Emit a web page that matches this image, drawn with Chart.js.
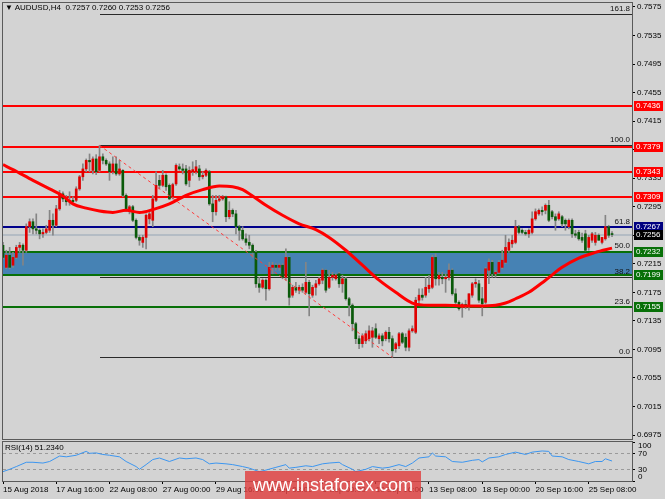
<!DOCTYPE html>
<html>
<head>
<meta charset="utf-8">
<script src="https://cdn.jsdelivr.net/npm/chart.js@4.4.1/dist/chart.umd.min.js"></script>
<style>
  body { margin: 0; background: #d3d3d3; }
  #wrap { position: relative; width: 665px; height: 499px; background: #d3d3d3; overflow: hidden; font-family: "Liberation Sans", Arial, sans-serif; }
  canvas { position: absolute; left: 0; }
  .txt { position: absolute; font-size: 8px; line-height: 10px; color: #000; white-space: pre; }
  #mark { position: absolute; left: 245px; top: 471px; width: 176px; height: 28px; background: rgba(225, 60, 60, 0.8);
          color: #fff; font-size: 18px; line-height: 28px; text-align: center; }
</style>
</head>
<body>
<div id="wrap">
  <canvas id="main" width="665" height="441" style="top:0"></canvas>
  <canvas id="rsi" width="665" height="58" style="top:441px"></canvas>
  <div class="txt" id="title" style="left:5px;top:3px"></div>
  <div class="txt" id="rsiTitle" style="left:5px;top:443px"></div>
  <div id="mark">www.instaforex.com</div>
</div>
<script>
// H4 bars, index 0 = 15 Aug 2018 00:00
const xTickBars = [0, 16, 32, 48, 64, 80, 96, 112, 128, 144, 160, 176];
const xTickLabels = ["15 Aug 2018", "17 Aug 16:00", "22 Aug 08:00", "27 Aug 00:00", "29 Aug 16:00", "3 Sep 08:00",
  "6 Sep 00:00", "10 Sep 16:00", "13 Sep 08:00", "18 Sep 00:00", "20 Sep 16:00", "25 Sep 08:00"];

const opens = [
  .7241,.7210,.7227,.7213,.7224,.7238,.7241,.7234,.7267,.7274,
  .7264,.7262,.7257,.7259,.7262,.7276,.7269,.7292,.7313,.7306,
  .7302,.7304,.7304,.7320,.7337,.7348,.7360,.7346,.7362,.7346,
  .7365,.7360,.7355,.7344,.7355,.7341,.7346,.7311,.7290,.7295,
  .7276,.7252,.7245,.7252,.7278,.7276,.7304,.7332,.7325,.7339,
  .7325,.7309,.7327,.7351,.7348,.7348,.7332,.7344,.7344,.7348,
  .7337,.7339,.7344,.7299,.7288,.7304,.7306,.7309,.7281,.7290,
  .7285,.7267,.7262,.7250,.7245,.7241,.7231,.7187,.7182,.7192,
  .7180,.7210,.7213,.7210,.7213,.7196,.7224,.7171,.7182,.7178,
  .7182,.7175,.7189,.7171,.7182,.7187,.7192,.7206,.7182,.7196,
  .7194,.7201,.7187,.7194,.7166,.7157,.7131,.7110,.7103,.7107,
  .7110,.7112,.7124,.7110,.7114,.7110,.7119,.7110,.7096,.7100,
  .7117,.7112,.7098,.7121,.7119,.7164,.7171,.7171,.7180,.7182,
  .7224,.7194,.7196,.7194,.7196,.7206,.7173,.7161,.7154,.7158,
  .7157,.7171,.7187,.7187,.7166,.7161,.7206,.7217,.7201,.7203,
  .7210,.7217,.7234,.7243,.7245,.7267,.7262,.7259,.7257,.7259,
  .7278,.7285,.7290,.7290,.7297,.7288,.7281,.7278,.7281,.7276,
  .7267,.7276,.7257,.7259,.7252,.7257,.7238,.7248,.7245,.7255,
  .7245,.7250,.7267,.7257];
const highs = [
  .7245,.7234,.7238,.7231,.7241,.7245,.7243,.7271,.7278,.7278,
  .7285,.7264,.7264,.7269,.7290,.7285,.7297,.7318,.7316,.7311,
  .7316,.7309,.7323,.7339,.7355,.7362,.7369,.7365,.7368,.7381,
  .7369,.7362,.7358,.7365,.7365,.7360,.7347,.7313,.7297,.7297,
  .7278,.7255,.7255,.7285,.7290,.7311,.7344,.7339,.7346,.7341,
  .7327,.7328,.7355,.7355,.7355,.7353,.7351,.7358,.7360,.7353,
  .7344,.7348,.7346,.7311,.7311,.7311,.7311,.7310,.7302,.7292,
  .7290,.7269,.7267,.7257,.7255,.7243,.7234,.7196,.7194,.7194,
  .7217,.7217,.7215,.7215,.7215,.7236,.7225,.7185,.7189,.7185,
  .7187,.7217,.7192,.7185,.7192,.7196,.7208,.7207,.7206,.7203,
  .7201,.7203,.7199,.7196,.7168,.7159,.7133,.7114,.7117,.7121,
  .7128,.7126,.7131,.7117,.7117,.7121,.7126,.7114,.7105,.7119,
  .7119,.7117,.7124,.7128,.7168,.7180,.7180,.7196,.7199,.7227,
  .7229,.7203,.7203,.7201,.7215,.7208,.7180,.7163,.7160,.7164,
  .7173,.7189,.7194,.7192,.7182,.7210,.7222,.7220,.7206,.7220,
  .7234,.7255,.7250,.7255,.7276,.7269,.7264,.7262,.7264,.7288,
  .7292,.7292,.7295,.7299,.7304,.7290,.7285,.7288,.7283,.7278,
  .7278,.7278,.7262,.7262,.7258,.7262,.7255,.7259,.7259,.7257,
  .7252,.7283,.7269,.7260];
const lows = [
  .7222,.7208,.7208,.7210,.7222,.7231,.7213,.7231,.7259,.7257,
  .7257,.7250,.7252,.7257,.7259,.7255,.7267,.7290,.7302,.7297,
  .7297,.7299,.7302,.7318,.7332,.7344,.7344,.7341,.7340,.7344,
  .7355,.7353,.7332,.7341,.7339,.7339,.7309,.7288,.7285,.7274,
  .7250,.7241,.7238,.7236,.7271,.7267,.7302,.7320,.7323,.7318,
  .7305,.7306,.7325,.7346,.7341,.7325,.7323,.7339,.7341,.7332,
  .7334,.7337,.7297,.7274,.7283,.7302,.7304,.7274,.7278,.7281,
  .7257,.7248,.7248,.7241,.7236,.7224,.7182,.7175,.7180,.7164,
  .7178,.7201,.7206,.7206,.7194,.7192,.7157,.7168,.7175,.7173,
  .7175,.7173,.7142,.7168,.7171,.7185,.7187,.7175,.7180,.7192,
  .7192,.7182,.7175,.7164,.7142,.7121,.7103,.7096,.7098,.7103,
  .7107,.7098,.7110,.7103,.7100,.7107,.7105,.7084,.7091,.7096,
  .7103,.7093,.7093,.7119,.7117,.7159,.7164,.7168,.7175,.7180,
  .7185,.7185,.7187,.7175,.7192,.7171,.7159,.7150,.7140,.7152,
  .7150,.7168,.7182,.7161,.7142,.7159,.7187,.7196,.7196,.7201,
  .7208,.7215,.7231,.7238,.7243,.7257,.7257,.7255,.7252,.7257,
  .7276,.7283,.7283,.7285,.7274,.7278,.7262,.7276,.7267,.7262,
  .7264,.7252,.7252,.7248,.7245,.7233,.7234,.7245,.7241,.7248,
  .7243,.7248,.7252,.7253];
const closes = [
  .7224,.7227,.7210,.7224,.7238,.7241,.7234,.7267,.7274,.7264,
  .7262,.7257,.7259,.7264,.7276,.7269,.7292,.7313,.7306,.7302,
  .7304,.7302,.7320,.7337,.7348,.7360,.7358,.7362,.7344,.7365,
  .7360,.7355,.7344,.7355,.7341,.7348,.7311,.7290,.7295,.7276,
  .7252,.7248,.7252,.7283,.7285,.7306,.7325,.7325,.7339,.7323,
  .7306,.7326,.7353,.7348,.7346,.7327,.7346,.7347,.7351,.7337,
  .7339,.7346,.7299,.7288,.7304,.7306,.7309,.7281,.7290,.7285,
  .7267,.7262,.7250,.7245,.7241,.7231,.7187,.7182,.7192,.7180,
  .7210,.7213,.7210,.7213,.7196,.7224,.7168,.7182,.7178,.7182,
  .7178,.7189,.7173,.7182,.7187,.7194,.7206,.7178,.7196,.7199,
  .7199,.7187,.7194,.7166,.7157,.7131,.7110,.7103,.7114,.7117,
  .7121,.7121,.7112,.7114,.7107,.7119,.7110,.7093,.7103,.7117,
  .7105,.7098,.7121,.7124,.7164,.7171,.7168,.7182,.7185,.7224,
  .7194,.7199,.7194,.7196,.7206,.7173,.7161,.7152,.7158,.7155,
  .7173,.7187,.7189,.7164,.7159,.7208,.7217,.7201,.7203,.7217,
  .7220,.7238,.7245,.7248,.7267,.7259,.7259,.7257,.7262,.7278,
  .7288,.7290,.7288,.7297,.7276,.7281,.7276,.7285,.7271,.7271,
  .7276,.7257,.7255,.7250,.7248,.7234,.7252,.7257,.7255,.7248,
  .7252,.7267,.7255,.7256];

// moving average
const maBars = [0, 3, 9, 14, 18, 21, 25, 29, 33, 37, 41, 45, 50, 55, 60, 65, 69, 72, 75, 79, 84, 89, 94, 98,
  103, 108, 113, 118, 123, 128, 133, 138, 143, 148, 151, 154, 158, 163, 168, 173, 178, 183];
const maValues = [.7354, .7347, .7332, .7320, .7310, .7299, .7293, .7289, .7287, .7290, .7287, .7291, .7299, .7311,
  .7319, .7324, .7323, .7319, .7310, .7297, .7283, .7271, .7263, .7252, .7234, .7213, .7192, .7175, .7160, .7157,
  .7157, .7156, .7156, .7157, .7160, .7166, .7175, .7192, .7210, .7223, .7231, .7237];

const rsiBars = [0, 2, 4, 7, 9, 12, 14, 17, 19, 22, 25, 26, 28, 30, 32, 35, 37, 40, 41, 43, 45, 47, 50, 53, 55,
  58, 60, 62, 64, 67, 69, 72, 74, 77, 79, 82, 85, 86, 88, 91, 93, 96, 98, 101, 102, 105, 106, 109, 111, 114,
  116, 119, 121, 123, 125, 128, 129, 130, 133, 135, 138, 141, 143, 144, 146, 149, 151, 154, 157, 159, 162,
  164, 165, 168, 170, 173, 176, 178, 180, 181, 183];
const rsiValues = [24, 30, 37, 48, 48, 46, 50, 64, 62, 66, 76, 71, 72, 68, 66, 62, 50, 37, 30, 42, 55, 59, 50, 59, 57,
  59, 55, 44, 46, 44, 42, 37, 33, 24, 28, 35, 42, 33, 35, 39, 37, 44, 46, 48, 42, 30, 24, 30, 37, 33,
  35, 42, 37, 46, 59, 62, 72, 64, 62, 50, 48, 53, 55, 49, 59, 62, 68, 74, 68, 74, 77,
  76, 64, 62, 55, 50, 44, 50, 50, 57, 51.234];

const priceTicks = [0.6975, 0.7015, 0.7055, 0.7095, 0.7135, 0.7175, 0.7215, 0.7255, 0.7295, 0.7335, 0.7375,
  0.7415, 0.7455, 0.7495, 0.7535, 0.7575];
const rsiTicks = [0, 30, 70, 100];

const resistance = [0.7436, 0.7379, 0.7343, 0.7309];
const support = [0.7232, 0.7199, 0.7155];
const pivotLevel = 0.7267;
const bidLevel = 0.7256;
const zoneTop = 0.7232, zoneBottom = 0.7199;
const fibNames = ["0.0", "23.6", "38.2", "50.0", "61.8", "100.0", "161.8"];
const fibValues = [0.7085, 0.7155, 0.7197, 0.7233, 0.7267, 0.7381, 0.7565];
const trendBars = [29, 117];
const trendValues = [0.7381, 0.7084];

const X_MAX = 189;
const FONT = '"Liberation Sans", Arial, sans-serif';
const upColor = '#e00000', downColor = '#0a5a0a', wickColor = '#858585';
const idx = opens.map((_, i) => i);
const last = a => a[a.length - 1];

document.getElementById('title').textContent =
  '\u25BC AUDUSD,H4  ' + [opens, highs, lows, closes].map(a => last(a).toFixed(4)).join(' ');
document.getElementById('rsiTitle').textContent = 'RSI(14) ' + last(rsiValues).toFixed(4);

// fixed axis width, and no extra room for the end labels
const fixWidth = s => { s.width = 33; s.paddingTop = 0; s.paddingBottom = 0; };

const levels = {
  id: 'levels',
  beforeDatasetsDraw(chart) {
    const { ctx, chartArea: a, scales: { x, y } } = chart;
    ctx.save();
    const t = y.getPixelForValue(zoneTop), b = y.getPixelForValue(zoneBottom);
    ctx.fillStyle = '#4682b4';
    ctx.fillRect(a.left, t, a.right - a.left, b - t);
    const hline = (v, color, w, x0) => {
      const py = Math.round(y.getPixelForValue(v)) + (w % 2 ? 0.5 : 0);
      ctx.strokeStyle = color;
      ctx.lineWidth = w;
      ctx.beginPath();
      ctx.moveTo(x0 === undefined ? a.left : x0, py);
      ctx.lineTo(a.right, py);
      ctx.stroke();
    };
    const fx = Math.round(x.getPixelForValue(trendBars[0]));
    ctx.font = '8px ' + FONT;
    ctx.textAlign = 'right';
    ctx.textBaseline = 'bottom';
    fibValues.forEach((v, i) => {
      hline(v, '#2a2a2a', 1, fx);
      ctx.fillStyle = '#111';
      ctx.fillText(fibNames[i], a.right - 2, Math.round(y.getPixelForValue(v)) - 1);
    });
    hline(bidLevel, '#b4bcc4', 2);
    resistance.forEach(v => hline(v, '#ff0000', 2));
    support.forEach(v => hline(v, '#087008', 2));
    hline(pivotLevel, '#00008b', 2);
    ctx.restore();
  },
  afterDraw(chart) {
    const { ctx, chartArea: a, scales: { y } } = chart;
    ctx.save();
    ctx.strokeStyle = '#5a5a5a';
    ctx.lineWidth = 1;
    ctx.strokeRect(a.left - 0.5, a.top - 0.5, a.right - a.left + 1, a.bottom - a.top + 1);
    const tags = resistance.map(v => [v, '#ff0000'])
      .concat([[pivotLevel, '#000080'], [bidLevel, '#000000']])
      .concat(support.map(v => [v, '#087008']));
    ctx.font = '8px ' + FONT;
    ctx.textAlign = 'left';
    ctx.textBaseline = 'middle';
    tags.forEach(([v, bg]) => {
      const py = Math.round(y.getPixelForValue(v));
      ctx.fillStyle = bg;
      ctx.fillRect(a.right + 2, py - 5, 29, 10);
      ctx.fillStyle = '#fff';
      ctx.fillText(v.toFixed(4), a.right + 4, py);
    });
    ctx.restore();
  }
};

new Chart(document.getElementById('main'), {
  type: 'bar',
  data: {
    datasets: [
      { type: 'line', data: maBars.map((b, i) => ({ x: b, y: maValues[i] })), borderColor: '#ff0000', borderWidth: 3,
        pointRadius: 0, cubicInterpolationMode: 'monotone', order: 0 },
      { type: 'line', data: trendBars.map((b, i) => ({ x: b, y: trendValues[i] })), borderColor: '#ff3c3c',
        borderWidth: 1, borderDash: [3, 3], pointRadius: 0, order: 0 },
      { data: idx.map(i => ({ x: i, y: [opens[i], closes[i]] })),
        backgroundColor: idx.map(i => closes[i] >= opens[i] ? upColor : downColor),
        barThickness: 2, minBarLength: 1, grouped: false, order: 1 },
      { data: idx.map(i => ({ x: i, y: [lows[i], highs[i]] })), backgroundColor: wickColor,
        barThickness: 1, grouped: false, order: 2 }
    ]
  },
  options: {
    responsive: false,
    animation: false,
    events: [],
    layout: { padding: { left: 3, top: 3, right: 0, bottom: 2 } },
    plugins: { legend: { display: false }, tooltip: { enabled: false } },
    scales: {
      x: { type: 'linear', min: 0, max: X_MAX, display: false, offset: false },
      y: {
        position: 'right', min: 0.69694, max: 0.75806, afterFit: fixWidth,
        afterBuildTicks: s => { s.ticks = priceTicks.map(v => ({ value: v })); },
        ticks: { callback: v => v.toFixed(4), font: { family: FONT, size: 8 }, color: '#000', padding: 2, autoSkip: false },
        grid: { drawOnChartArea: false, tickLength: 3, color: '#000' },
        border: { color: '#000' }
      }
    }
  },
  plugins: [levels]
});

const rsiPanel = {
  id: 'rsiPanel',
  afterDraw(chart) {
    const { ctx, chartArea: a, scales: { y } } = chart;
    ctx.save();
    ctx.strokeStyle = '#5a5a5a';
    ctx.lineWidth = 1;
    ctx.strokeRect(a.left - 0.5, a.top - 0.5, a.right - a.left + 1, a.bottom - a.top + 1);
    ctx.font = '8px ' + FONT;
    ctx.fillStyle = '#000';
    ctx.textAlign = 'left';
    rsiTicks.forEach(v => {
      ctx.textBaseline = v === 100 ? 'top' : v === 0 ? 'bottom' : 'middle';
      ctx.fillText(String(v), a.right + 6, y.getPixelForValue(v));
    });
    ctx.restore();
  }
};

new Chart(document.getElementById('rsi'), {
  type: 'line',
  data: {
    datasets: [{ data: rsiBars.map((b, i) => ({ x: b, y: rsiValues[i] })), borderColor: '#3c96f0', borderWidth: 1, pointRadius: 0 }]
  },
  options: {
    responsive: false,
    animation: false,
    events: [],
    layout: { padding: { left: 3, top: 1, right: 0, bottom: 0 } },
    plugins: { legend: { display: false }, tooltip: { enabled: false } },
    scales: {
      x: {
        type: 'linear', min: 0, max: X_MAX, offset: false,
        afterBuildTicks: s => { s.ticks = xTickBars.map(v => ({ value: v })); },
        afterFit: s => { s.height = 18; },
        ticks: { callback: v => xTickLabels[xTickBars.indexOf(v)], align: 'start', maxRotation: 0, autoSkip: false,
                 font: { family: FONT, size: 8 }, color: '#000', padding: 1 },
        grid: { drawOnChartArea: false, tickLength: 3, color: '#000' },
        border: { color: '#5a5a5a' }
      },
      y: {
        position: 'right', min: 0, max: 100, afterFit: fixWidth,
        afterBuildTicks: s => { s.ticks = rsiTicks.map(v => ({ value: v })); },
        ticks: { display: false },
        grid: { color: c => (c.tick && (c.tick.value === 30 || c.tick.value === 70)) ? '#9a9a9a' : 'rgba(0,0,0,0)',
                tickColor: '#000', tickLength: 3 },
        border: { color: '#000', dash: [3, 3] }
      }
    }
  },
  plugins: [rsiPanel]
});
</script>
</body>
</html>
